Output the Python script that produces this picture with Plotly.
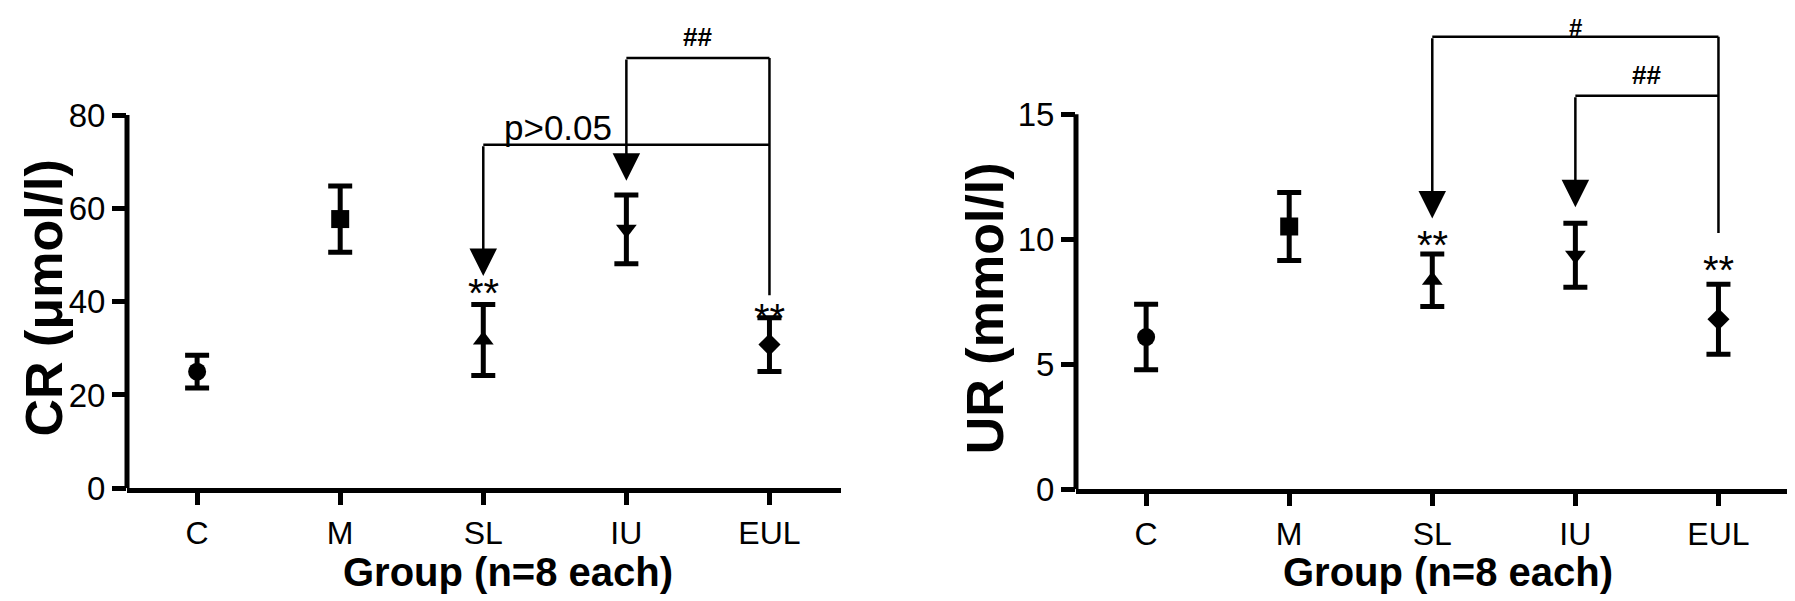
import plotly.graph_objects as go

W, H = 1795, 601

categories = ["C", "M", "SL", "IU", "EUL"]
symbols = ["circle", "square", "triangle-up", "triangle-down", "diamond"]

# CR panel (µmol/l)
cr_mean = [25.0, 57.7, 31.8, 55.5, 30.8]
cr_err = [3.5, 7.1, 7.6, 7.35, 5.75]
cr_ticks = [0, 20, 40, 60, 80]
cr_star_y = [43.5, 38.3]          # ** above SL, EUL
cr_hash_line = 92.2               # IU–EUL bracket (##)
cr_p_line = 73.6                  # SL–EUL bracket (p>0.05)
cr_sl_tip = 45.5
cr_iu_tip = 65.9
cr_eul_end = 41.4
cr_hash_label_y = 96.0
cr_p_label_y = 77.3

# UR panel (mmol/l)
ur_mean = [6.09, 10.51, 8.36, 9.36, 6.8]
ur_err = [1.31, 1.36, 1.05, 1.28, 1.4]
ur_ticks = [0, 5, 10, 15]
ur_star_y = [10.1, 9.11]
ur_hash1_line = 18.1              # SL–EUL bracket (#)
ur_hash2_line = 15.74             # IU–EUL bracket (##)
ur_sl_tip = 10.83
ur_iu_tip = 11.28
ur_eul_end = 10.25
ur_hash1_label_y = 18.45
ur_hash2_label_y = 16.45

FONT = "Liberation Sans, Arial, sans-serif"
idx = list(range(len(categories)))

fig = go.Figure()

def add_panel(mean, err, xa, ya):
    for i in idx:
        fig.add_trace(go.Scatter(
            x=[i], y=[mean[i]], mode="markers",
            marker=dict(symbol=symbols[i], size=17 if symbols[i] == "diamond" else 18, color="black"),
            error_y=dict(type="data", array=[err[i]], thickness=5, width=12, color="black"),
            xaxis=xa, yaxis=ya, showlegend=False, cliponaxis=False,
        ))

add_panel(cr_mean, cr_err, "x", "y")
add_panel(ur_mean, ur_err, "x2", "y2")

# pixel geometry
left_dom = [119 / W, 833 / W]
right_dom = [1068 / W, 1782 / W]
l_bot, r_bot = 496, 497
l_ppu = 385.5 / 80
r_ppu = 387.3 / 15

axis_common = dict(showgrid=False, zeroline=False, ticks="outside", tickcolor="black",
                   tickwidth=5, color="black")

fig.update_layout(
    width=W, height=H, margin=dict(l=0, r=0, t=0, b=0),
    paper_bgcolor="white", plot_bgcolor="white", showlegend=False,
    xaxis=dict(domain=left_dom, range=[-0.49, 4.5], tickvals=idx, ticktext=categories,
               showline=True, linewidth=5, linecolor="black", ticklen=12,
               tickfont=dict(family=FONT, size=32, color="black"), anchor="y", **axis_common),
    yaxis=dict(domain=[1 - l_bot / H, 1], range=[0, l_bot / l_ppu], tickvals=cr_ticks,
               showline=False, ticklen=14,
               tickfont=dict(family=FONT, size=33, color="black"), anchor="x", **axis_common),
    xaxis2=dict(domain=right_dom, range=[-0.49, 4.5], tickvals=idx, ticktext=categories,
                showline=True, linewidth=5, linecolor="black", ticklen=12,
                tickfont=dict(family=FONT, size=32, color="black"), anchor="y2", **axis_common),
    yaxis2=dict(domain=[1 - r_bot / H, 1], range=[0, r_bot / r_ppu], tickvals=ur_ticks,
                showline=False, ticklen=14,
                tickfont=dict(family=FONT, size=33, color="black"), anchor="x2", **axis_common),
)

# y axis lines up to the top tick
fig.add_shape(type="line", xref="x domain", yref="y", x0=0, x1=0, y0=0, y1=cr_ticks[-1],
              line=dict(color="black", width=5))
fig.add_shape(type="line", xref="x2 domain", yref="y2", x0=0, x1=0, y0=0, y1=ur_ticks[-1],
              line=dict(color="black", width=5))

LW = 2.5

def hline(xr, yr, x0, x1, y):
    fig.add_shape(type="line", xref=xr, yref=yr, x0=x0, x1=x1, y0=y, y1=y,
                  line=dict(color="black", width=LW))

def vline(xr, yr, x, y0, y1):
    fig.add_shape(type="line", xref=xr, yref=yr, x0=x, x1=x, y0=y0, y1=y1,
                  line=dict(color="black", width=LW))

def arrow(xr, yr, x, y_from, y_tip):
    fig.add_annotation(x=x, y=y_tip, ax=x, ay=y_from, xref=xr, yref=yr, axref=xr, ayref=yr,
                       text="", showarrow=True, arrowhead=2, arrowsize=2.2, arrowwidth=LW,
                       arrowcolor="black", standoff=0)

def label(xr, yr, x, y, text, size, bold=False, yshift=0):
    fig.add_annotation(x=x, y=y, xref=xr, yref=yr, text=f"<b>{text}</b>" if bold else text,
                       showarrow=False, xanchor="center", yanchor="middle", yshift=yshift,
                       font=dict(family=FONT, size=size, color="black"))

SL, IU, EUL = 2, 3, 4

# Left brackets
hline("x", "y", IU, EUL, cr_hash_line)
hline("x", "y", SL, EUL, cr_p_line)
vline("x", "y", EUL, cr_hash_line, cr_eul_end)
arrow("x", "y", IU, cr_hash_line, cr_iu_tip)
arrow("x", "y", SL, cr_p_line, cr_sl_tip)
label("x", "y", 3.5, cr_hash_label_y, "##", 26, bold=True, yshift=3)
label("x", "y", 2.52, cr_p_label_y, "p&gt;0.05", 35)
label("x", "y", SL, cr_star_y[0], "**", 40, yshift=-8)
label("x", "y", EUL, cr_star_y[1], "**", 40, yshift=-8)

# Right brackets
hline("x2", "y2", SL, EUL, ur_hash1_line)
hline("x2", "y2", IU, EUL, ur_hash2_line)
vline("x2", "y2", EUL, ur_hash1_line, ur_eul_end)
arrow("x2", "y2", SL, ur_hash1_line, ur_sl_tip)
arrow("x2", "y2", IU, ur_hash2_line, ur_iu_tip)
label("x2", "y2", 3, ur_hash1_label_y, "#", 24, bold=True)
label("x2", "y2", 3.5, ur_hash2_label_y, "##", 26, bold=True, yshift=3)
label("x2", "y2", SL, ur_star_y[0], "**", 40, yshift=-8)
label("x2", "y2", EUL, ur_star_y[1], "**", 40, yshift=-8)

# Axis titles
def ptitle(px, py, text, size, angle=0, family=FONT):
    fig.add_annotation(x=px / W, y=1 - py / H, xref="paper", yref="paper", text=f"<b>{text}</b>",
                       showarrow=False, textangle=angle, xanchor="center", yanchor="middle",
                       font=dict(family=family, size=size, color="black"))

ptitle(36, 300, "CR (μmol/l)", 52, -90)
ptitle(977, 310, "UR (mmol/l)", 52, -90)
ptitle(500, 582, "Group (n=8 each)", 40)
ptitle(1440, 582, "Group (n=8 each)", 40)

fig.write_html("out.html")
